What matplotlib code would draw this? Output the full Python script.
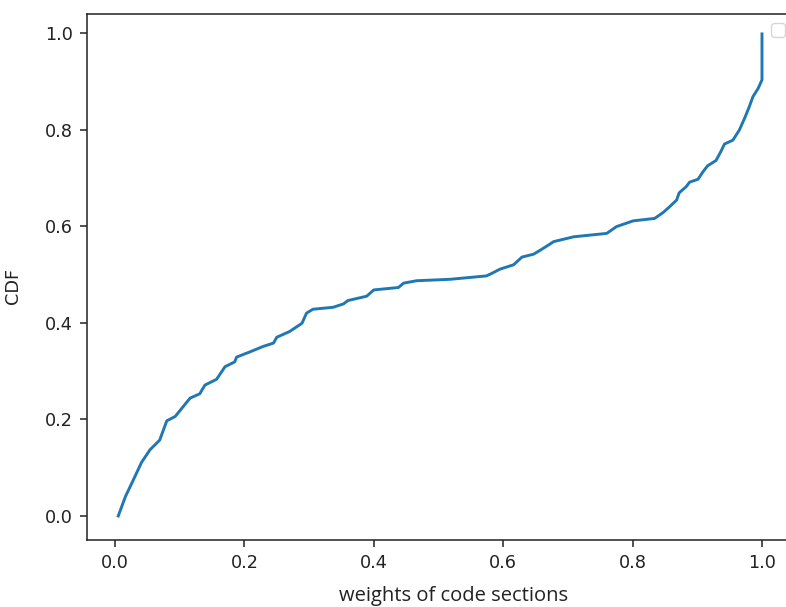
import matplotlib
matplotlib.use("Agg")
import matplotlib.pyplot as plt

plt.rcParams["font.family"] = ["DejaVu Sans"]

# CDF of code-section weights
weights = [0.005, 0.016, 0.027, 0.041, 0.054, 0.069, 0.080, 0.093, 0.116, 0.131,
           0.139, 0.157, 0.170, 0.185, 0.188, 0.209, 0.229, 0.245, 0.250, 0.270,
           0.289, 0.296, 0.306, 0.337, 0.353, 0.360, 0.389, 0.400, 0.438, 0.446,
           0.466, 0.518, 0.574, 0.582, 0.595, 0.616, 0.629, 0.647, 0.657, 0.670,
           0.678, 0.709, 0.760, 0.775, 0.801, 0.834, 0.847, 0.857, 0.868, 0.872,
           0.883, 0.888, 0.901, 0.909, 0.916, 0.929, 0.937, 0.942, 0.955, 0.965,
           0.973, 0.980, 0.986, 0.994, 1.000, 1.000]
cdf = [0.000, 0.040, 0.071, 0.111, 0.137, 0.157, 0.197, 0.206, 0.244, 0.253,
       0.271, 0.283, 0.309, 0.319, 0.329, 0.340, 0.351, 0.358, 0.370, 0.382,
       0.399, 0.420, 0.428, 0.432, 0.439, 0.446, 0.455, 0.468, 0.473, 0.482,
       0.487, 0.490, 0.497, 0.502, 0.511, 0.520, 0.536, 0.542, 0.550, 0.561,
       0.568, 0.578, 0.585, 0.599, 0.611, 0.616, 0.628, 0.640, 0.654, 0.669,
       0.682, 0.691, 0.697, 0.713, 0.725, 0.736, 0.756, 0.770, 0.778, 0.799,
       0.823, 0.846, 0.868, 0.885, 0.903, 0.998]
ticks = [0.0, 0.2, 0.4, 0.6, 0.8, 1.0]

fig = plt.figure(figsize=(7.86, 6.07), dpi=100)
# axes run slightly past the right edge, as in the cropped screenshot
ax = fig.add_axes([0.1107, 0.1104, 0.8995, 0.8666])

ax.plot(weights, cdf, color="#1f77b4", lw=2.1)
ax.set_xlim(-0.0433, 1.0495)
ax.set_ylim(-0.0497, 1.0393)
ax.set_xticks(ticks)
ax.set_yticks(ticks)
ax.set_xticklabels([f"{t:.1f}" for t in ticks])
ax.set_yticklabels([f"{t:.1f}" for t in ticks])

ax.tick_params(labelsize=12.7, length=5, width=1.1, pad=5, colors="#222222")
for s in ax.spines.values():
    s.set_linewidth(1.1)
    s.set_color("#222222")
ax.spines["right"].set_visible(False)

ax.set_ylabel("CDF", fontsize=12.7, color="#222222")
ax.yaxis.set_label_coords(-0.092, 0.483)
ax.set_xlabel("weights of code sections", fontsize=14.5, family=["Open Sans", "DejaVu Sans"],
              color="#222222", va="center")
ax.xaxis.set_label_coords(0.519, -0.106)

# empty legend box, as produced by plt.legend() with no labelled lines
ax.legend(handles=[], loc="upper right", fontsize=12.7)

fig.savefig("out.png", dpi=100)
